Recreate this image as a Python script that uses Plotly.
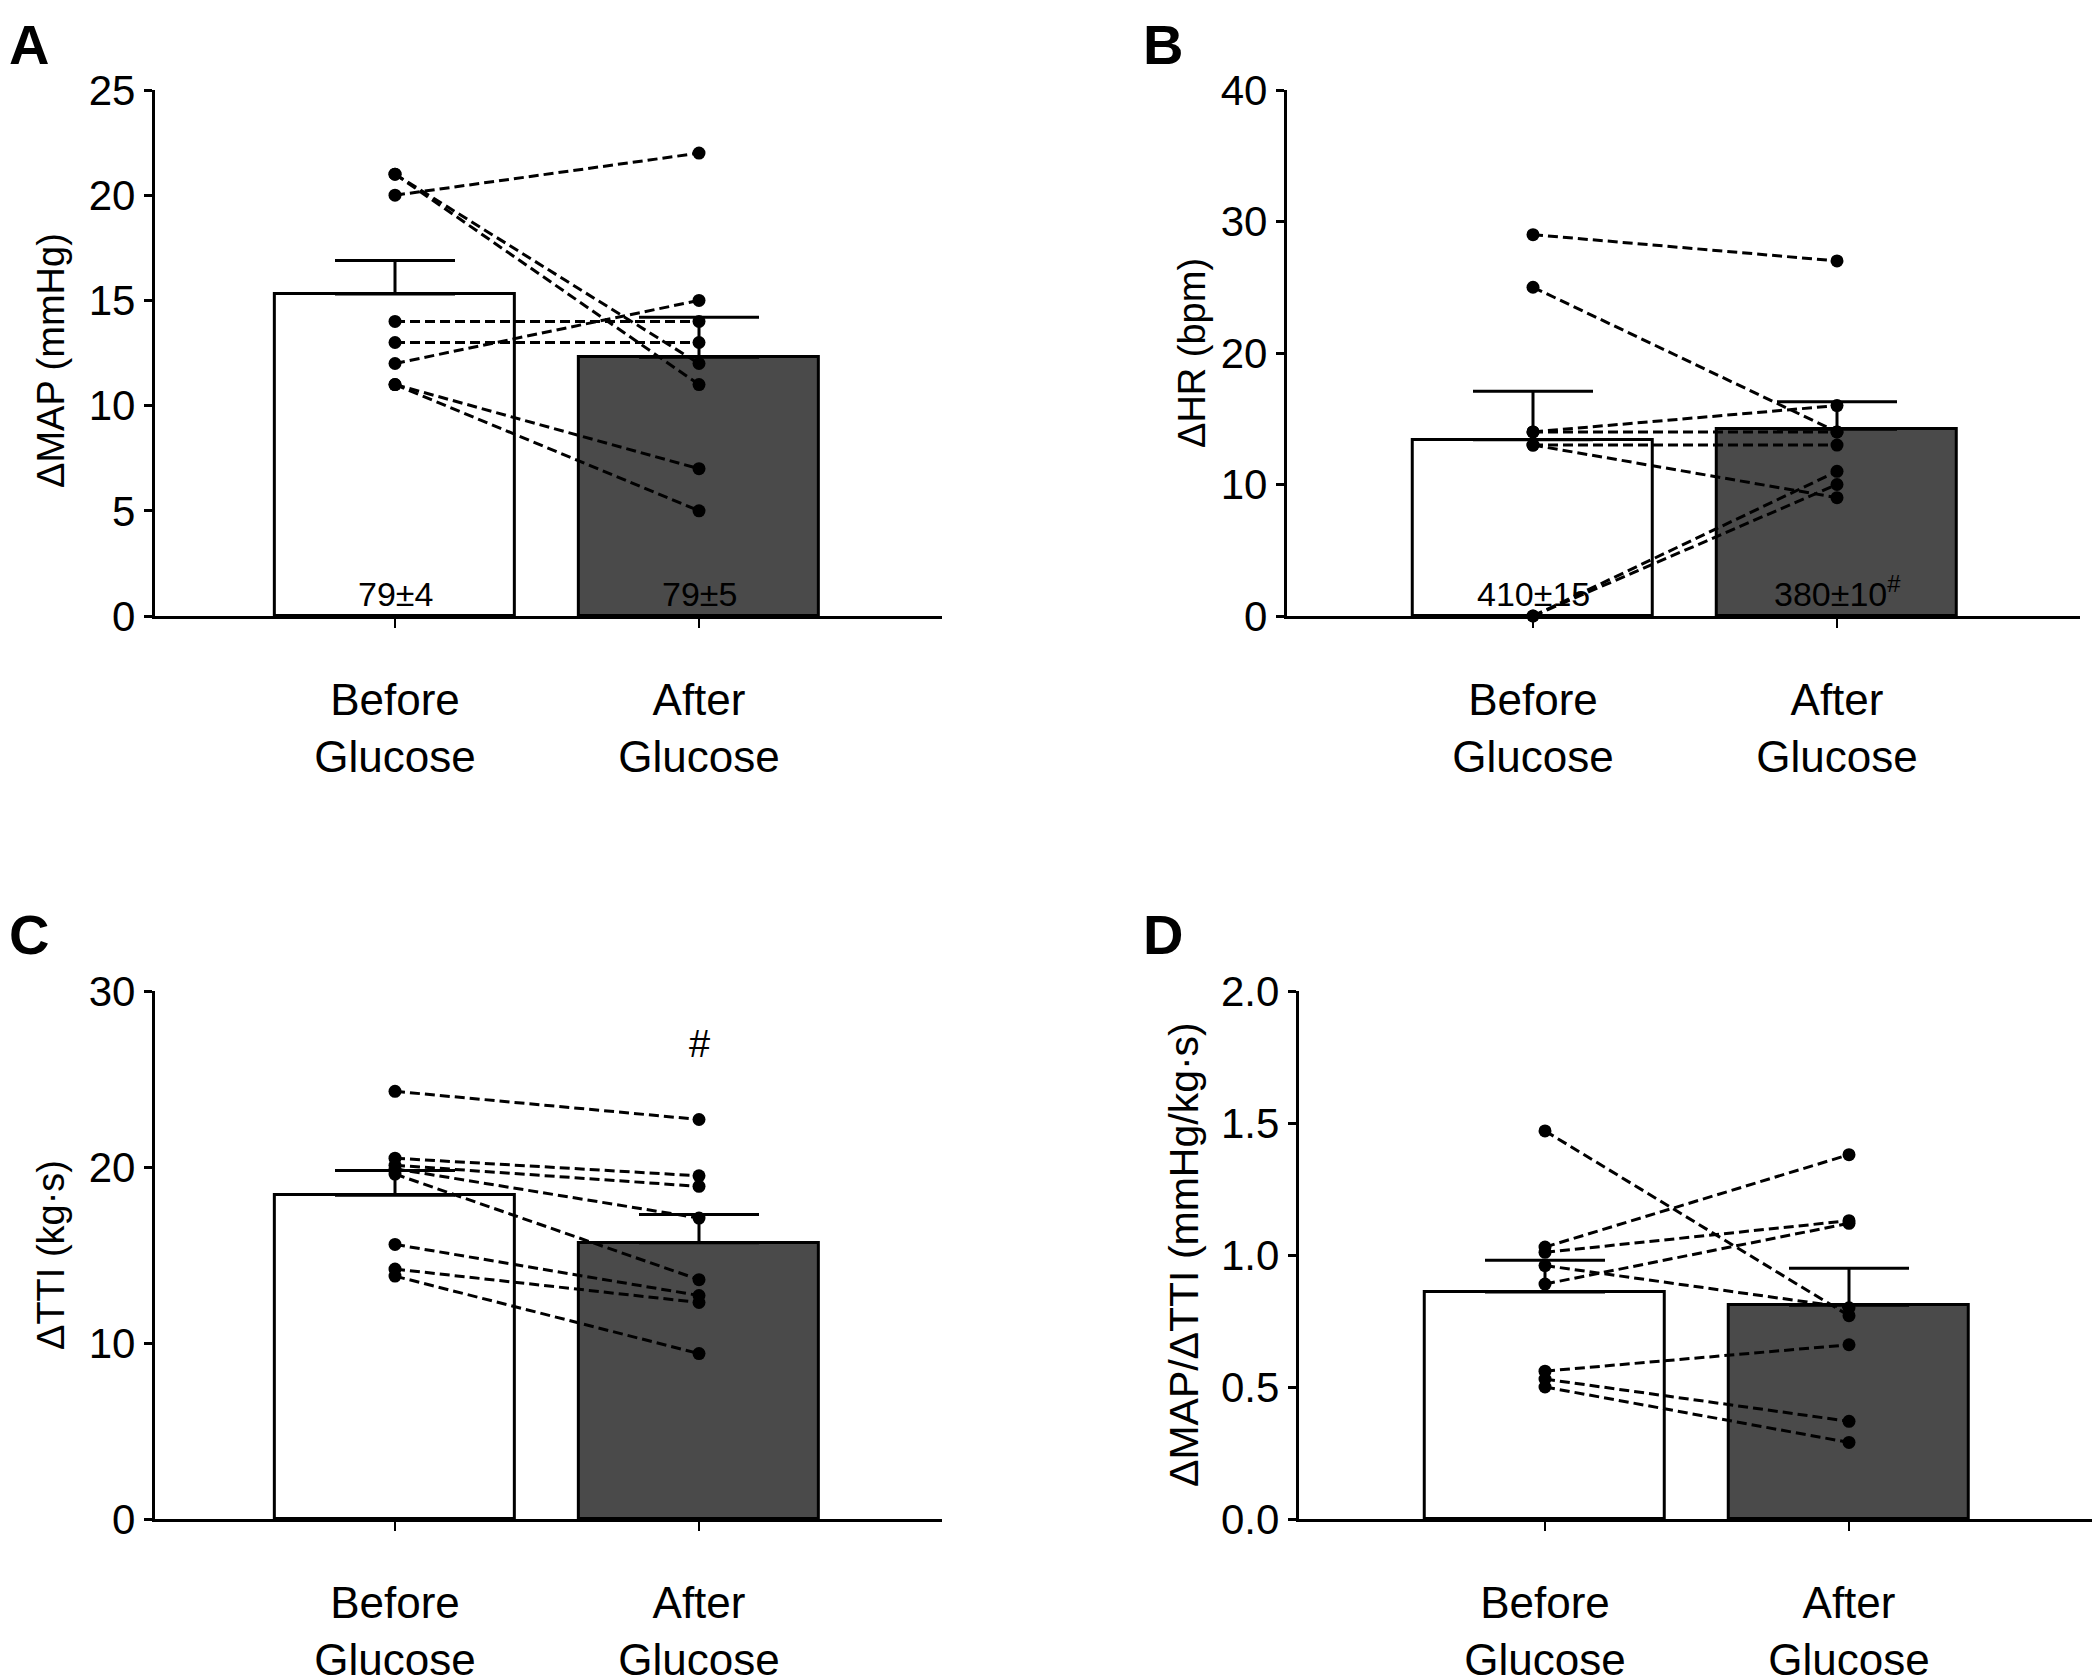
import plotly.graph_objects as go

# ---------------- data ----------------
categories = ["Before<br>Glucose", "After<br>Glucose"]
cat_pos = [0, 1]

# Panel A: ΔMAP (mmHg)
a_before = [21, 21, 20, 14, 13, 12, 11, 11]
a_after = [12, 11, 22, 14, 13, 15, 7, 5]
a_means = [15.3, 12.3]
a_sem = [1.6, 1.9]
a_bar_text = ["79±4", "79±5"]

# Panel B: ΔHR (bpm)
b_before = [29, 25, 14, 14, 13, 13, 0, 0]
b_after = [27, 14, 16, 14, 13, 9, 11, 10]
b_means = [13.4, 14.2]
b_sem = [3.7, 2.1]
b_bar_text = ["410±15", "380±10<sup>#</sup>"]

# Panel C: ΔTTI (kg·s)
c_before = [24.3, 20.5, 20.1, 19.9, 19.6, 15.6, 14.2, 13.8]
c_after = [22.7, 19.5, 18.9, 17.1, 13.6, 12.7, 12.3, 9.4]
c_means = [18.4, 15.7]
c_sem = [1.4, 1.6]
c_sig = "#"
c_sig_y = 27.0

# Panel D: ΔMAP/ΔTTI (mmHg/kg·s)
d_before = [1.47, 1.03, 1.01, 0.96, 0.89, 0.56, 0.53, 0.50]
d_after = [0.77, 1.38, 1.13, 0.80, 1.12, 0.66, 0.37, 0.29]
d_means = [0.86, 0.81]
d_sem = [0.12, 0.14]

y_titles = ["ΔMAP (mmHg)", "ΔHR (bpm)", "ΔTTI (kg·s)", "ΔMAP/ΔTTI (mmHg/kg·s)"]
panel_letters = ["A", "B", "C", "D"]
a_ticks = [0, 5, 10, 15, 20, 25]
b_ticks = [0, 10, 20, 30, 40]
c_ticks = [0, 10, 20, 30]
d_ticks = [0.0, 0.5, 1.0, 1.5, 2.0]
d_ticklabels = ["0.0", "0.5", "1.0", "1.5", "2.0"]

# ---------------- layout geometry (pixels of a 2100x1680 canvas) ----------------
W, H = 2100, 1680
FONT = "Liberation Sans, Arial, Helvetica, sans-serif"
BAR_COLORS = ["white", "#4a4a4a"]
STEP = 304  # px per category unit

panels = [
    dict(before=a_before, after=a_after, means=a_means, sem=a_sem,
         ticks=a_ticks, ticktext=[str(t) for t in a_ticks], ymax=25,
         xc=387, xr=(-0.79, 1.80), ypx=(608, 82), title_x=43, title_dy=8,
         title_size=38, letter=(21, 36)),
    dict(before=b_before, after=b_after, means=b_means, sem=b_sem,
         ticks=b_ticks, ticktext=[str(t) for t in b_ticks], ymax=40,
         xc=1525, xr=(-0.81, 1.80), ypx=(608, 82), title_x=1184, title_dy=0,
         title_size=38, letter=(1155, 36)),
    dict(before=c_before, after=c_after, means=c_means, sem=c_sem,
         ticks=c_ticks, ticktext=[str(t) for t in c_ticks], ymax=30,
         xc=387, xr=(-0.79, 1.80), ypx=(1511, 983), title_x=43, title_dy=0,
         title_size=38, letter=(21, 926)),
    dict(before=d_before, after=d_after, means=d_means, sem=d_sem,
         ticks=d_ticks, ticktext=d_ticklabels, ymax=2.0,
         xc=1537, xr=(-0.81, 1.80), ypx=(1511, 983), title_x=1176, title_dy=0,
         title_size=41, letter=(1155, 926)),
]

fig = go.Figure()
annotations = []
layout_axes = {}

for i, p in enumerate(panels, start=1):
    xa = "x" if i == 1 else f"x{i}"
    ya = "y" if i == 1 else f"y{i}"
    # bars with one-sided SEM
    fig.add_trace(go.Bar(
        x=cat_pos, y=p["means"], width=0.79,
        marker=dict(color=BAR_COLORS, line=dict(color="black", width=3)),
        error_y=dict(type="data", symmetric=False, array=p["sem"],
                     arrayminus=[0, 0], color="black", thickness=3, width=60),
        xaxis=xa, yaxis=ya, showlegend=False, hoverinfo="skip",
    ))
    # paired individual values
    for b, a in zip(p["before"], p["after"]):
        fig.add_trace(go.Scatter(
            x=cat_pos, y=[b, a], mode="lines+markers",
            line=dict(color="black", width=3, dash="10px,5px"),
            marker=dict(color="black", size=13),
            cliponaxis=False, xaxis=xa, yaxis=ya, showlegend=False,
        ))
    xr = p["xr"]
    x0 = p["xc"] + xr[0] * STEP
    x1 = p["xc"] + xr[1] * STEP
    y0, y1 = p["ypx"]
    layout_axes[f"xaxis{'' if i == 1 else i}"] = dict(
        domain=[x0 / W, x1 / W], range=list(xr), anchor=ya, automargin=False,
        tickmode="array", tickvals=cat_pos, ticktext=categories,
        showline=True, linewidth=3, linecolor="black",
        ticks="outside", ticklen=9, tickwidth=2, tickcolor="black",
        showgrid=False, zeroline=False, ticklabelstandoff=34,
        tickfont=dict(family=FONT, size=44, color="black"),
    )
    layout_axes[f"yaxis{'' if i == 1 else i}"] = dict(
        domain=[1 - y0 / H, 1 - y1 / H], range=[0, p["ymax"]], anchor=xa,
        automargin=False,
        tickmode="array", tickvals=p["ticks"], ticktext=p["ticktext"],
        showline=True, linewidth=3, linecolor="black",
        ticks="outside", ticklen=8, tickwidth=2.5, tickcolor="black",
        showgrid=False, zeroline=False, ticklabelstandoff=0,
        tickfont=dict(family=FONT, size=42, color="black"),
    )
    # y-axis title
    annotations.append(dict(
        text=y_titles[i - 1], xref="paper", yref="paper",
        x=p["title_x"] / W, y=1 - ((y0 + y1) / 2 + p["title_dy"]) / H,
        xanchor="center", yanchor="middle", textangle=-90, showarrow=False,
        font=dict(family=FONT, size=p["title_size"], color="black"),
    ))
    # panel letter
    lx, ly = p["letter"]
    annotations.append(dict(
        text=f"<b>{panel_letters[i - 1]}</b>", xref="paper", yref="paper",
        x=lx / W, y=1 - ly / H, xanchor="center", yanchor="middle",
        showarrow=False, borderpad=0,
        font=dict(family=FONT, size=56, color="black"),
    ))

# baseline values inside bars (panels A and B)
for i, texts in ((1, a_bar_text), (2, b_bar_text)):
    xa = "x" if i == 1 else f"x{i}"
    ya = "y" if i == 1 else f"y{i}"
    for xp, t in zip(cat_pos, texts):
        annotations.append(dict(
            text=t, xref=xa, yref=ya, x=xp, y=0, yanchor="bottom",
            xanchor="center", yshift=1, showarrow=False,
            font=dict(family=FONT, size=34, color="black"),
        ))

# significance mark in panel C
annotations.append(dict(
    text=c_sig, xref="x3", yref="y3", x=1, y=c_sig_y, showarrow=False,
    xanchor="center", yanchor="middle",
    font=dict(family=FONT, size=38, color="black"),
))

fig.update_layout(
    width=W, height=H,
    margin=dict(l=0, r=0, t=0, b=0, pad=0, autoexpand=False),
    paper_bgcolor="white", plot_bgcolor="white",
    font=dict(family=FONT, color="black"),
    annotations=annotations, bargap=0, **layout_axes,
)

fig.write_html("out.html")
